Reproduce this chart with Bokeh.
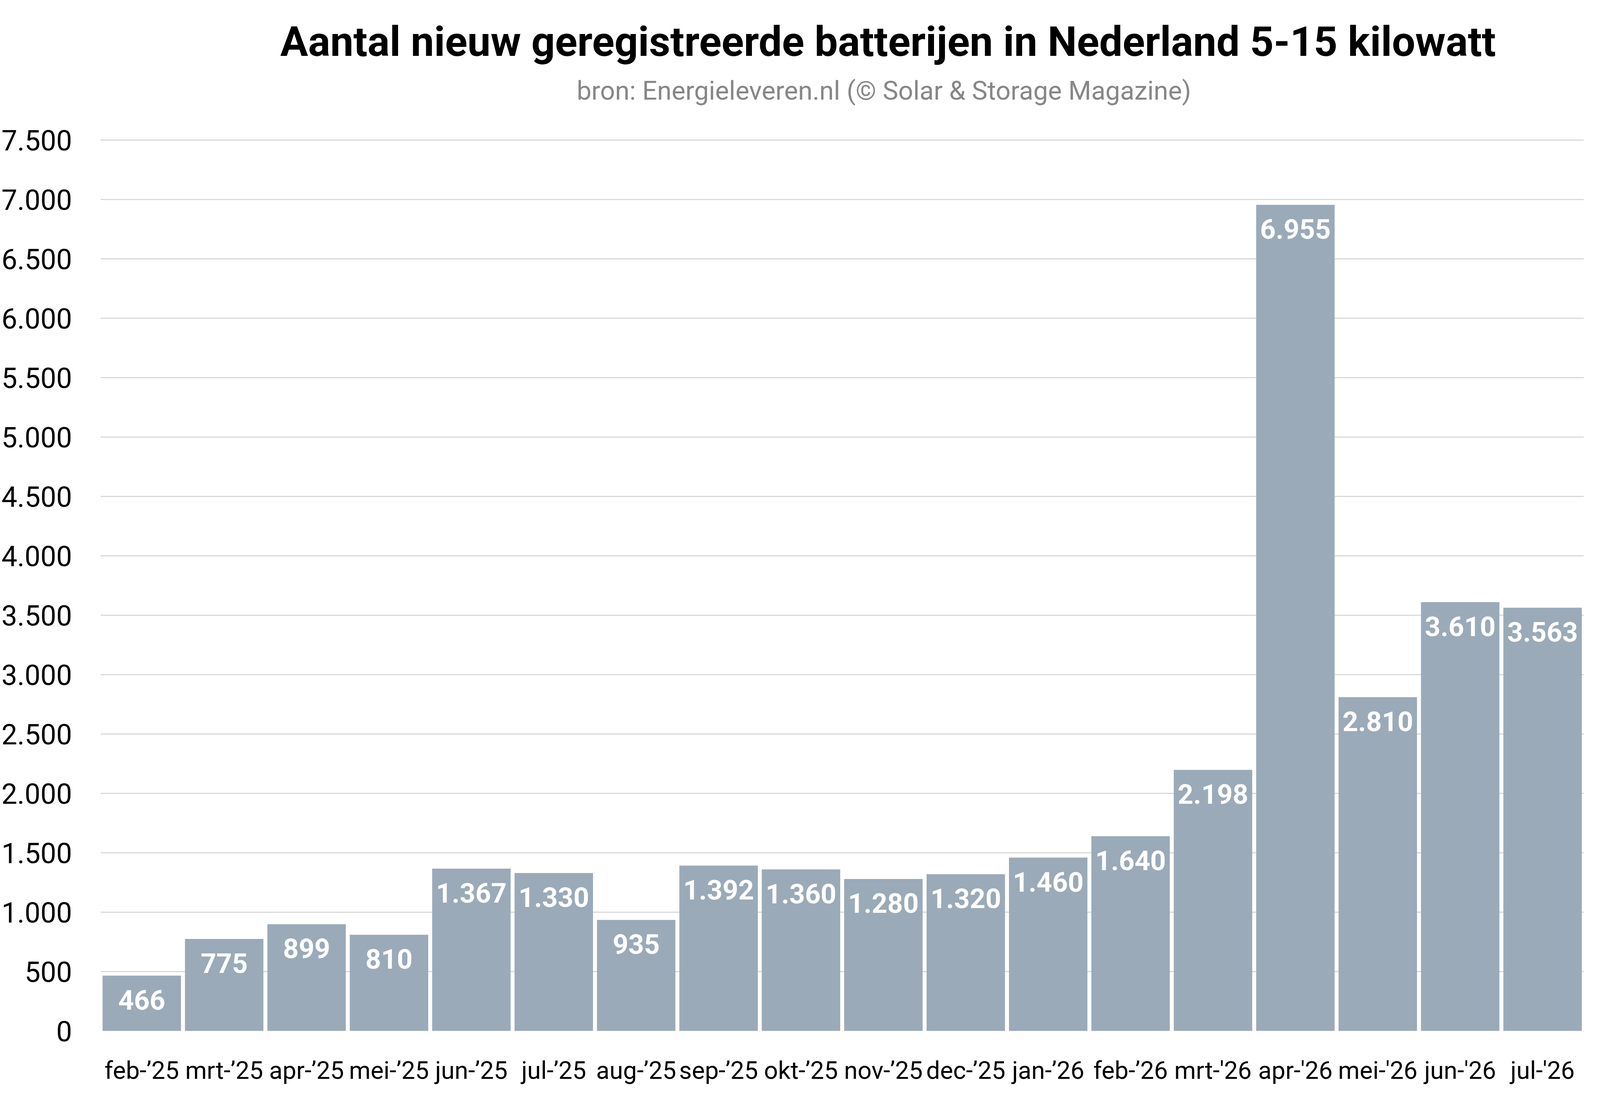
from bokeh.plotting import figure
from bokeh.models import ColumnDataSource, FixedTicker, Title, Range1d, FactorRange
from bokeh.core.properties import value
from bokeh.embed import file_html
from bokeh.resources import INLINE

months = ["feb-’25", "mrt-’25", "apr-’25", "mei-’25", "jun-’25", "jul-’25",
          "aug-’25", "sep-’25", "okt-’25", "nov-’25", "dec-’25", "jan-’26",
          "feb-’26", "mrt-'26", "apr-'26", "mei-'26", "jun-'26", "jul-'26"]
counts = [466, 775, 899, 810, 1367, 1330, 935, 1392, 1360, 1280, 1320, 1460,
          1640, 2198, 6955, 2810, 3610, 3563]
y_ticks = list(range(0, 7501, 500))

title_text = "Aantal nieuw geregistreerde batterijen in Nederland 5-15 kilowatt"
subtitle_text = "bron: Energieleveren.nl (© Solar & Storage Magazine)"


def nl(v):
    return f"{v:,}".replace(",", ".")


y_tick_labels = [nl(t) for t in y_ticks]
count_labels = [nl(c) for c in counts]

source = ColumnDataSource(dict(month=months, count=counts, label=count_labels))

p = figure(x_range=FactorRange(*months), y_range=Range1d(0, 7750),
           frame_width=3797, frame_height=2356,
           min_border_left=249, min_border_right=34,
           min_border_top=282, min_border_bottom=156,
           output_backend="svg", toolbar_location=None)

p.vbar(x="month", top="count", width=0.952, source=source,
       fill_color="#9AAAB8", line_color=None)

p.text(x="month", y="count", text="label", source=source,
       text_font=value("Roboto"), text_font_style="bold", text_font_size="70px",
       text_color="white", text_align="center", text_baseline="alphabetic",
       y_offset=62)

p.xaxis.axis_line_color = None
p.xaxis.major_tick_line_color = None
p.xaxis.minor_tick_line_color = None
p.xaxis.major_label_text_font = "Roboto"
p.xaxis.major_label_text_font_size = "63px"
p.xaxis.major_label_text_color = "black"
p.xaxis.major_label_standoff = 58

p.yaxis.ticker = FixedTicker(ticks=y_ticks)
p.yaxis.major_label_overrides = dict(zip(y_ticks, y_tick_labels))
p.yaxis.axis_line_color = None
p.yaxis.major_tick_line_color = None
p.yaxis.minor_tick_line_color = None
p.yaxis.major_label_text_font = "Roboto"
p.yaxis.major_label_text_font_size = "72px"
p.yaxis.major_label_text_color = "black"
p.yaxis.major_label_standoff = 67

p.xgrid.grid_line_color = None
p.ygrid.grid_line_color = "#d9d9d9"
p.ygrid.grid_line_width = 3
p.outline_line_color = None
p.background_fill_color = "white"
p.border_fill_color = "white"

sub = Title(text=subtitle_text, align="left", offset=1219,
            text_font="Roboto", text_font_size="67px", text_font_style="normal",
            text_color="#878787", standoff=24)
main = Title(text=title_text, align="left", offset=460,
             text_font="Roboto", text_font_size="106px", text_font_style="bold",
             text_color="black", standoff=20)
p.add_layout(sub, "above")
p.add_layout(main, "above")

open("out.html", "w").write(file_html(p, INLINE))
